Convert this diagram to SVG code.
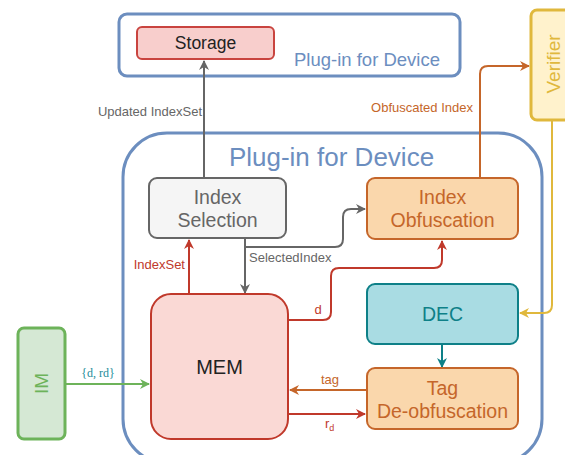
<svg xmlns="http://www.w3.org/2000/svg" width="565" height="455" viewBox="0 0 565 455">
  <defs>
    <style>
      text { font-family: "Liberation Sans", Arial, sans-serif; }
      .lbl { font-size: 13px; }
      .node-t { font-size: 19.5px; text-anchor: middle; }
      .edge { fill: none; stroke-width: 2; }
    </style>
    <marker id="ah-gray" viewBox="0 0 10 10" refX="9" refY="5" markerWidth="5" markerHeight="5" orient="auto-start-reverse" markerUnits="strokeWidth">
      <path d="M0,0 L10,5 L0,10 L3,5 Z" fill="#666666"/>
    </marker>
    <marker id="ah-red" viewBox="0 0 10 10" refX="9" refY="5" markerWidth="5" markerHeight="5" orient="auto" markerUnits="strokeWidth">
      <path d="M0,0 L10,5 L0,10 L3,5 Z" fill="#c0392b"/>
    </marker>
    <marker id="ah-orange" viewBox="0 0 10 10" refX="9" refY="5" markerWidth="5" markerHeight="5" orient="auto" markerUnits="strokeWidth">
      <path d="M0,0 L10,5 L0,10 L3,5 Z" fill="#c5662a"/>
    </marker>
    <marker id="ah-green" viewBox="0 0 10 10" refX="9" refY="5" markerWidth="5" markerHeight="5" orient="auto" markerUnits="strokeWidth">
      <path d="M0,0 L10,5 L0,10 L3,5 Z" fill="#6db35a"/>
    </marker>
    <marker id="ah-teal" viewBox="0 0 10 10" refX="9" refY="5" markerWidth="5" markerHeight="5" orient="auto" markerUnits="strokeWidth">
      <path d="M0,0 L10,5 L0,10 L3,5 Z" fill="#0e8088"/>
    </marker>
    <marker id="ah-gold" viewBox="0 0 10 10" refX="9" refY="5" markerWidth="5" markerHeight="5" orient="auto" markerUnits="strokeWidth">
      <path d="M0,0 L10,5 L0,10 L3,5 Z" fill="#e0b83c"/>
    </marker>
  </defs>

  <rect width="565" height="455" fill="#ffffff"/>

  <!-- containers -->
  <g id="plugin-top">
    <rect x="119" y="14" width="341" height="62" rx="8" fill="#ffffff" stroke="#6c8ebf" stroke-width="3"/>
    <text x="367" y="66" font-size="18.5" fill="#6c8ebf" text-anchor="middle">Plug-in for Device</text>
  </g>
  <g id="plugin-main">
    <rect x="123" y="133" width="419" height="330" rx="44" fill="#ffffff" stroke="#6c8ebf" stroke-width="3"/>
    <text x="331.5" y="166" font-size="26" fill="#6c8ebf" text-anchor="middle">Plug-in for Device</text>
  </g>

  <!-- connectors -->
  <g id="connectors">
    <!-- Index Selection -> Storage -->
    <path class="edge" d="M204,178 V61" stroke="#666666" marker-end="url(#ah-gray)"/>
    <text class="lbl" x="202" y="116" fill="#666666" text-anchor="end">Updated IndexSet</text>
    <!-- Index Selection -> MEM -->
    <path class="edge" d="M245,238 V293" stroke="#666666" marker-end="url(#ah-gray)"/>
    <!-- Index Selection -> Index Obfuscation -->
    <path class="edge" d="M245,238 V247 H335 Q343,247 343,239 V217 Q343,209 351,209 H365" stroke="#666666" marker-end="url(#ah-gray)"/>
    <text class="lbl" x="249" y="262" fill="#666666" font-size="12">SelectedIndex</text>
    <!-- MEM -> Index Selection -->
    <path class="edge" d="M189,294 V240" stroke="#c0392b" marker-end="url(#ah-red)"/>
    <text class="lbl" x="185" y="269" fill="#c0392b" text-anchor="end">IndexSet</text>
    <!-- MEM -> Index Obfuscation (d) -->
    <path class="edge" d="M288,320 H323 Q331,320 331,312 V276 Q331,268 339,268 H434 Q442,268 442,260 V241" stroke="#c0392b" marker-end="url(#ah-red)"/>
    <text class="lbl" x="318" y="314" fill="#c0392b" text-anchor="middle">d</text>
    <!-- Index Obfuscation -> Verifier -->
    <path class="edge" d="M480,178 V74 Q480,66 488,66 H529" stroke="#c5662a" marker-end="url(#ah-orange)"/>
    <text class="lbl" x="422" y="112" fill="#c5662a" text-anchor="middle">Obfuscated Index</text>
    <!-- Verifier -> DEC -->
    <path class="edge" d="M552,120 V305 Q552,313 544,313 H520" stroke="#e0b83c" marker-end="url(#ah-gold)"/>
    <!-- DEC -> Tag De-obfuscation -->
    <path class="edge" d="M442,344 V367" stroke="#0e8088" marker-end="url(#ah-teal)"/>
    <!-- Tag De-obfuscation -> MEM -->
    <path class="edge" d="M367,390 H290" stroke="#c5662a" marker-end="url(#ah-orange)"/>
    <text class="lbl" x="330" y="384" fill="#c5662a" text-anchor="middle">tag</text>
    <!-- MEM -> Tag De-obfuscation -->
    <path class="edge" d="M288,414 H365" stroke="#c0392b" marker-end="url(#ah-red)"/>
    <text class="lbl" x="325" y="428" fill="#c0392b">r<tspan font-size="9" dy="3">d</tspan></text>
    <!-- IM -> MEM -->
    <path class="edge" d="M65,384 H149" stroke="#6db35a" marker-end="url(#ah-green)"/>
    <text x="98" y="377" font-size="12" fill="#1c8c99" text-anchor="middle" style="font-family:'Liberation Serif', 'Times New Roman', serif">{d, rd}</text>
  </g>

  <!-- nodes -->
  <g id="storage">
    <rect x="137" y="27" width="137" height="32" rx="5" fill="#f8cecc" stroke="#c9443f" stroke-width="2"/>
    <text x="205.5" y="49" font-size="17.5" fill="#222222" text-anchor="middle">Storage</text>
  </g>
  <g id="verifier">
    <rect x="531" y="10" width="48" height="110" rx="6" fill="#fff2cc" stroke="#e0b83c" stroke-width="3"/>
    <text transform="translate(560,64) rotate(-90)" font-size="19" fill="#e0b83c" text-anchor="middle">Verifier</text>
  </g>
  <g id="index-selection">
    <rect x="149" y="178" width="137" height="60" rx="8" fill="#f5f5f5" stroke="#666666" stroke-width="2"/>
    <text class="node-t" x="217.5" y="204" fill="#666666">Index</text>
    <text class="node-t" x="217.5" y="227" fill="#666666">Selection</text>
  </g>
  <g id="index-obfuscation">
    <rect x="367" y="178" width="151" height="61" rx="8" fill="#fad7ac" stroke="#c5662a" stroke-width="2"/>
    <text class="node-t" x="442.5" y="204" fill="#c5662a">Index</text>
    <text class="node-t" x="442.5" y="227" fill="#c5662a">Obfuscation</text>
  </g>
  <g id="mem">
    <rect x="151" y="294" width="137" height="145" rx="20" fill="#fad9d5" stroke="#c0392b" stroke-width="2"/>
    <text x="219.5" y="374" font-size="20" fill="#222222" text-anchor="middle">MEM</text>
  </g>
  <g id="dec">
    <rect x="367" y="284" width="151" height="60" rx="8" fill="#a9dce3" stroke="#0e8088" stroke-width="2"/>
    <text class="node-t" x="442.5" y="321" fill="#0e8088">DEC</text>
  </g>
  <g id="tag-deobfuscation">
    <rect x="367" y="368" width="151" height="61" rx="8" fill="#fad7ac" stroke="#c5662a" stroke-width="2"/>
    <text class="node-t" x="442.5" y="395" fill="#c5662a">Tag</text>
    <text class="node-t" x="442.5" y="418" fill="#c5662a">De-obfuscation</text>
  </g>
  <g id="im">
    <rect x="18" y="328" width="47" height="111" rx="6" fill="#d5e8d4" stroke="#6db35a" stroke-width="3"/>
    <text transform="translate(48,383.5) rotate(-90)" font-size="19" fill="#6db35a" text-anchor="middle">IM</text>
  </g>
</svg>
